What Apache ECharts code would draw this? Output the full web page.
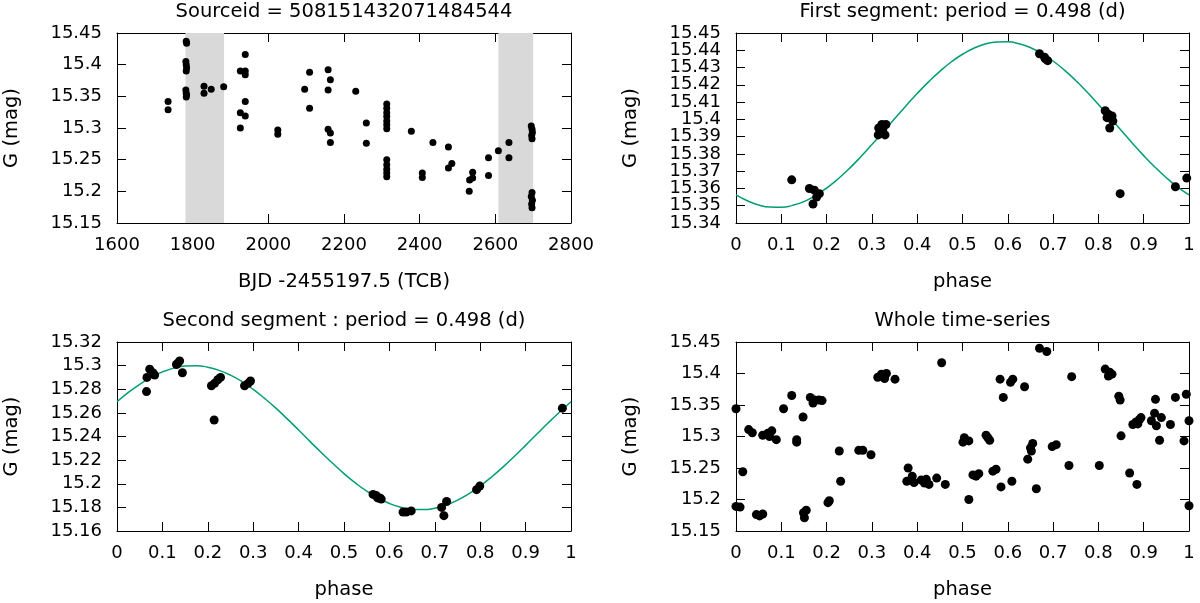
<!DOCTYPE html>
<html>
<head>
<meta charset="utf-8">
<script src="https://cdn.jsdelivr.net/npm/echarts@6/dist/echarts.min.js"></script>
<style>
html,body{margin:0;padding:0;background:#fff;}
#chart{width:1200px;height:603px;}
</style>
</head>
<body>
<div id="chart"></div>
<script>
// ---------- Panel 1: light curve (BJD vs G) ----------
const p1Time = [1735,1735,
  1783,1784,1782,1783,1784,1783,1782,1783,1784,1783,
  1830,1830,1849,1882,
  1939,1926,1939,1939,1939,1926,1939,1926,
  2025,2025,2096,2109,2109,
  2158,2164,2158,2158,2164,2164,2231,2259,2259,
  2313,2313,2313,2313,2313,2313,2313,2313,2313,2313,2313,2313,
  2378,2407,2407,2435,2476,2485,2476,2540,2532,2540,2531,
  2582,2582,2608,2636,2636,
  2695,2697,2698,2696,2697,2697,2695,2698,2696,2697];
const p1Mag = [15.342,15.329,
  15.437,15.434,15.405,15.400,15.395,15.390,15.360,15.355,15.352,15.349,
  15.366,15.355,15.361,15.365,
  15.416,15.390,15.390,15.384,15.342,15.324,15.319,15.300,
  15.297,15.290,15.361,15.388,15.331,
  15.392,15.376,15.360,15.298,15.292,15.277,15.358,15.308,15.276,
  15.338,15.331,15.324,15.318,15.311,15.305,15.299,15.250,15.242,15.235,15.229,15.223,
  15.295,15.229,15.222,15.277,15.270,15.244,15.237,15.230,15.218,15.221,15.200,
  15.253,15.225,15.264,15.277,15.253,
  15.303,15.298,15.293,15.288,15.283,15.198,15.192,15.186,15.180,15.174];
const p1BandStart = [1781, 2608];
const p1BandEnd = [1883, 2700];
const p1XTicks = {min:1600, max:2800, step:200};
const p1YTicks = {min:15.15, max:15.45, step:0.05};

// ---------- Panel 2: first segment ----------
const p2Phase = [0.123,0.162,0.173,0.184,0.178,0.170,
  0.315,0.322,0.331,0.314,0.329,0.324,
  0.670,0.681,0.688,0.683,
  0.815,0.822,0.830,0.832,0.825,0.819,
  0.848,0.970,0.995];
const p2Mag = [15.365,15.360,15.359,15.357,15.355,15.351,
  15.395,15.397,15.397,15.391,15.391,15.394,
  15.438,15.436,15.434,15.435,
  15.405,15.403,15.402,15.399,15.395,15.401,
  15.357,15.361,15.366];
const p2CurvePhase = [0,0.025,0.05,0.075,0.1,0.125,0.15,0.175,0.2,0.225,0.25,0.275,0.3,0.325,0.35,0.375,0.4,0.425,0.45,0.475,
  0.5,0.525,0.55,0.575,0.6,0.625,0.65,0.675,0.7,0.725,0.75,0.775,0.8,0.825,0.85,0.875,0.9,0.925,0.95,0.975,1];
const p2CurveMag = [15.3563,15.3529,15.3504,15.3492,15.3491,15.3502,15.3524,15.3558,15.3602,15.3655,15.3715,15.3782,15.3854,15.3928,15.4003,15.4078,15.4150,15.4217,15.4278,15.4332,
  15.4377,15.4412,15.4436,15.4448,15.4449,15.4438,15.4415,15.4382,15.4338,15.4285,15.4225,15.4158,15.4086,15.4012,15.3937,15.3862,15.3790,15.3723,15.3662,15.3608,15.3563];
const p2YTicks = {min:15.34, max:15.45, step:0.01};

// ---------- Panel 3: second segment ----------
const p3Phase = [0.065,0.066,0.072,0.079,0.083,
  0.131,0.138,0.134,0.144,
  0.208,0.215,0.222,0.228,0.214,
  0.281,0.289,0.294,
  0.564,0.571,0.579,0.582,0.574,
  0.630,0.637,0.648,
  0.715,0.726,0.720,
  0.792,0.799,0.981];
const p3Mag = [15.278,15.290,15.297,15.294,15.292,
  15.301,15.304,15.302,15.294,
  15.283,15.285,15.288,15.290,15.254,
  15.283,15.285,15.287,
  15.191,15.190,15.188,15.187,15.188,
  15.176,15.176,15.177,
  15.180,15.185,15.173,
  15.195,15.198,15.264];
const p3CurvePhase = [0,0.025,0.05,0.075,0.1,0.125,0.15,0.175,0.2,0.225,0.25,0.275,0.3,0.325,0.35,0.375,0.4,0.425,0.45,0.475,
  0.5,0.525,0.55,0.575,0.6,0.625,0.65,0.675,0.7,0.725,0.75,0.775,0.8,0.825,0.85,0.875,0.9,0.925,0.95,0.975,1];
const p3CurveMag = [15.2694,15.2773,15.2842,15.2901,15.2947,15.2979,15.2997,15.2999,15.2987,15.2960,15.2919,15.2865,15.2799,15.2723,15.2640,15.2549,15.2455,15.2359,15.2264,15.2173,
  15.2086,15.2007,15.1937,15.1879,15.1833,15.1801,15.1783,15.1781,15.1793,15.1820,15.1861,15.1915,15.1981,15.2057,15.2141,15.2231,15.2325,15.2421,15.2516,15.2607,15.2694];
const p3YTicks = {min:15.16, max:15.32, step:0.02};

// ---------- Panel 4: whole time-series ----------
const p4Phase = [0.000,0.015,0.000,0.009,0.028,0.036,0.045,0.052,0.059,0.059,
  0.070,0.079,0.074,0.089,0.105,0.123,0.134,0.134,0.148,0.149,
  0.155,0.151,0.164,0.173,0.183,0.190,0.170,0.203,0.206,0.228,
  0.231,0.271,0.280,0.298,0.313,0.321,0.332,0.328,0.351,0.454,
  0.380,0.377,0.389,0.393,0.409,0.420,0.426,0.416,0.443,0.462,
  0.504,0.501,0.514,0.514,0.523,0.530,0.536,0.552,0.560,0.556,
  0.567,0.574,0.583,0.590,0.606,0.611,0.585,0.609,0.637,0.644,
  0.650,0.655,0.652,0.663,0.670,0.686,0.698,0.707,0.735,0.741,
  0.802,0.815,0.825,0.830,0.822,0.845,0.848,0.850,0.869,0.885,
  0.876,0.883,0.891,0.894,0.887,0.917,0.924,0.926,0.939,0.928,
  0.935,0.959,0.970,0.994,1.000,0.989,1.000];
const p4Mag = [15.344,15.244,15.189,15.188,15.311,15.306,15.176,15.174,15.177,15.302,
  15.305,15.309,15.300,15.295,15.344,15.365,15.295,15.291,15.331,15.179,
  15.183,15.171,15.362,15.358,15.358,15.357,15.353,15.195,15.198,15.277,
  15.229,15.278,15.278,15.271,15.394,15.399,15.400,15.392,15.391,15.417,
  15.250,15.229,15.237,15.227,15.231,15.232,15.224,15.226,15.234,15.224,
  15.298,15.291,15.293,15.200,15.239,15.237,15.241,15.302,15.294,15.298,
  15.245,15.248,15.391,15.362,15.386,15.391,15.220,15.229,15.379,15.264,
  15.282,15.289,15.277,15.217,15.440,15.435,15.284,15.287,15.254,15.395,
  15.254,15.407,15.402,15.399,15.396,15.364,15.358,15.301,15.242,15.224,
  15.319,15.323,15.327,15.330,15.320,15.325,15.337,15.359,15.330,15.317,
  15.294,15.319,15.362,15.367,15.325,15.293,15.190];
const phaseTicks = {min:0, max:1, step:0.1};
const p4YTicks = {min:15.15, max:15.45, step:0.05};

// ---------- Text ----------
const titles = ['Sourceid = 508151432071484544', 'First segment: period = 0.498 (d)',
  'Second segment : period = 0.498 (d)', 'Whole time-series'];
const xNames = ['BJD -2455197.5 (TCB)', 'phase', 'phase', 'phase'];
const yName = 'G (mag)';

// ---------- Build ----------
const FONT = 'DejaVu Sans';
const zip = (a, b) => a.map((v, i) => [v, b[i]]);
const fmt = v => String(Math.round(v * 1000) / 1000);
const grids = [
  {left:117, top:33, width:454, height:190},
  {left:736, top:33, width:453, height:190},
  {left:117, top:342, width:454, height:189},
  {left:736, top:342, width:453, height:189}
];
const xT = [p1XTicks, phaseTicks, phaseTicks, phaseTicks];
const yT = [p1YTicks, p2YTicks, p3YTicks, p4YTicks];
const denseY = [false, true, false, false];

const lineStyle = {color:'#000', width:1};
const labelStyle = {fontFamily:FONT, fontSize:18, color:'#000', formatter:fmt, hideOverlap:false};
const xAxes = [], yAxes = [];
const yIndexOf = [];
grids.forEach((g, i) => {
  const base = {type:'value', gridIndex:i, min:xT[i].min, max:xT[i].max, interval:xT[i].step,
    splitLine:{show:false}, axisLine:{show:true, onZero:false, lineStyle},
    axisTick:{show:true, inside:true, length:9, lineStyle}};
  xAxes.push(Object.assign({}, base, {position:'bottom',
    name:xNames[i], nameLocation:'middle', nameGap:49,
    nameTextStyle:{fontFamily:FONT, fontSize:19.5, color:'#000'},
    axisLabel:Object.assign({}, labelStyle, {margin:13, showMinLabel:true, showMaxLabel:true})}));
  xAxes.push(Object.assign({}, base, {position:'top', axisLabel:{show:false}}));
  const ybase = {type:'value', gridIndex:i, min:yT[i].min, max:yT[i].max, interval:yT[i].step,
    splitLine:{show:false}, axisLine:{show:true, onZero:false, lineStyle},
    axisTick:{show:true, inside:true, length:9, lineStyle}};
  yIndexOf.push(yAxes.length);
  const lab = denseY[i]
    ? Object.assign({}, labelStyle, {margin:15, showMinLabel:false, showMaxLabel:false})
    : Object.assign({}, labelStyle, {margin:15, showMinLabel:true, showMaxLabel:true});
  yAxes.push(Object.assign({}, ybase, {position:'left',
    name:yName, nameLocation:'middle', nameGap:95, nameRotate:90,
    nameTextStyle:{fontFamily:FONT, fontSize:19.5, color:'#000'},
    axisLabel:lab}));
  yAxes.push(Object.assign({}, ybase, {position:'right', axisLabel:{show:false}}));
  if (denseY[i]) {
    // extra label-only axis so the end labels are drawn next to their crowded neighbours
    const lo = yT[i].min, hi = yT[i].max;
    yAxes.push(Object.assign({}, ybase, {position:'left', axisLine:{show:false}, axisTick:{show:false},
      axisLabel:Object.assign({}, labelStyle, {margin:15, showMinLabel:true, showMaxLabel:true,
        formatter:v => (Math.abs(v - lo) < 1e-9 || Math.abs(v - hi) < 1e-9) ? fmt(v) : ''})}));
  }
});

const titleTops = [2, 2, 311, 311];
const titleOpts = titles.map((t, i) => ({
  text:t, left:grids[i].left + grids[i].width / 2, top:titleTops[i], textAlign:'center', padding:0,
  textStyle:{fontFamily:FONT, fontSize:19.5, fontWeight:'normal', color:'#000'}
}));

const dot = (i, data, size) => ({type:'scatter', xAxisIndex:2*i, yAxisIndex:yIndexOf[i], data,
  symbol:'circle', symbolSize:size, itemStyle:{color:'#000', opacity:1}, clip:false, z:5, silent:true});
const curve = (i, xs, ys) => ({type:'line', xAxisIndex:2*i, yAxisIndex:yIndexOf[i], data:zip(xs, ys),
  smooth:true, showSymbol:false, symbol:'none', lineStyle:{color:'#009e73', width:1.5}, z:3, silent:true});

const series = [
  {type:'line', xAxisIndex:0, yAxisIndex:yIndexOf[0], data:[], z:1, silent:true,
    markArea:{silent:true, itemStyle:{color:'#d9d9d9'},
      data:p1BandStart.map((s, k) => [{xAxis:s}, {xAxis:p1BandEnd[k]}])}},
  dot(0, zip(p1Time, p1Mag), 7),
  curve(1, p2CurvePhase, p2CurveMag),
  dot(1, zip(p2Phase, p2Mag), 9),
  curve(2, p3CurvePhase, p3CurveMag),
  dot(2, zip(p3Phase, p3Mag), 9),
  dot(3, zip(p4Phase, p4Mag), 9)
];

const chart = echarts.init(document.getElementById('chart'), null, {renderer:'canvas'});
chart.setOption({
  animation:false,
  backgroundColor:'#fff',
  title:titleOpts,
  grid:grids,
  xAxis:xAxes,
  yAxis:yAxes,
  series
});
</script>
</body>
</html>
